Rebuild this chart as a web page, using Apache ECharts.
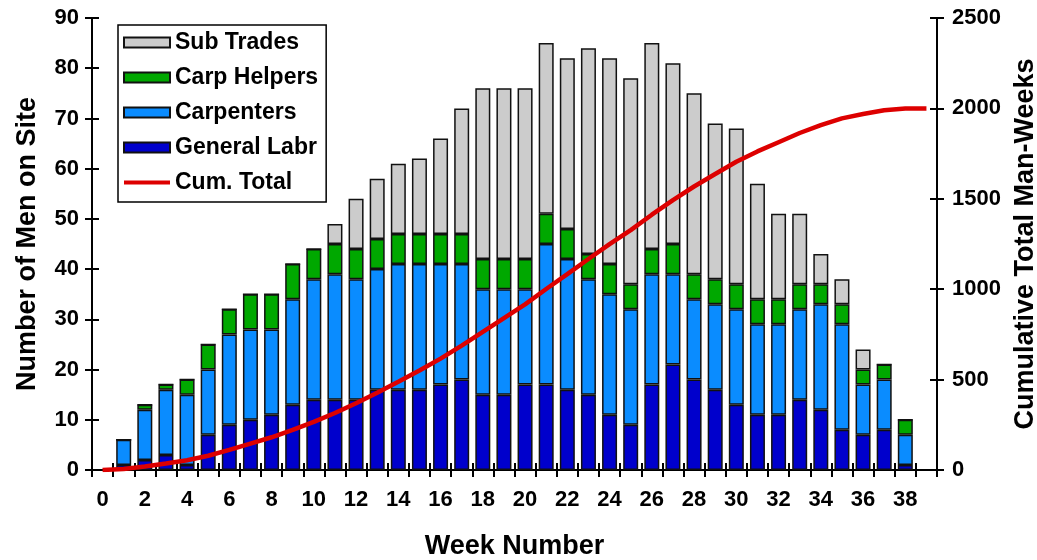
<!DOCTYPE html>
<html>
<head>
<meta charset="utf-8">
<script src="https://cdn.jsdelivr.net/npm/echarts@6/dist/echarts.min.js"></script>
<style>
  html, body { margin: 0; padding: 0; background: #fff; }
  #chart { width: 1037px; height: 560px; }
</style>
</head>
<body>
<div id="chart"></div>
<script>
// Week numbers on the category axis (0..39)
const weeks = ['0','1','2','3','4','5','6','7','8','9','10','11','12','13','14','15','16','17','18','19','20',
               '21','22','23','24','25','26','27','28','29','30','31','32','33','34','35','36','37','38','39'];

// Men on site per week, weeks 1..38
const generalLabr = [1,2,3,1,7,9,10,11,13,14,14,14,16,16,16,17,18,15,15,17,17,16,15,11,9,17,21,18,16,13,11,11,14,12,8,7,8,1];
const carpenters  = [5,10,13,14,13,18,18,17,21,24,25,24,24,25,25,24,23,21,21,19,28,26,23,24,23,22,18,16,17,19,18,18,18,21,21,10,10,6];
const carpHelpers = [0,1,1,3,5,5,7,7,7,6,6,6,6,6,6,6,6,6,6,6,6,6,5,6,5,5,6,5,5,5,5,5,5,4,4,3,3,3];
const subTrades   = [0,0,0,0,0,0,0,0,0,0,4,10,12,14,15,19,25,34,34,34,34,34,41,41,41,41,36,36,31,31,23,17,14,6,5,4,0,0];

// Cumulative total man-weeks, weeks 0..39 (right axis)
const cumTotal = [0,6,19,36,54,79,111,146,181,222,266,315,369,427,488,550,616,688,764,840,916,1001,1083,1167,1249,
                  1327,1412,1493,1568,1637,1705,1762,1813,1864,1907,1945,1969,1990,2000,2000];

// Axis ticks
const leftTicks  = { min: 0, max: 90, interval: 10 };
const rightTicks = { min: 0, max: 2500, interval: 500 };

const FONT = '"Liberation Sans", Arial, sans-serif';

function padWeeks(arr) {
  // place weeks 1..38 onto categories 0..39
  return ['-'].concat(arr, ['-']);
}

const barBase = {
  type: 'bar',
  stack: 'men',
  barWidth: 15,
  xAxisIndex: 0,
  yAxisIndex: 0,
  emphasis: { disabled: true },
  animation: false
};

const chart = echarts.init(document.getElementById('chart'), null, { renderer: 'canvas' });

const axisLineStyle = { color: '#000', width: 2 };
const labelStyle = { color: '#000', fontSize: 22, fontWeight: 'bold', fontFamily: FONT };
const nameStyle = { color: '#000', fontSize: 27, fontWeight: 'bold', fontFamily: FONT };
const plainNumber = function (v) { return String(v); };

chart.setOption({
  animation: false,
  backgroundColor: '#fff',
  grid: { left: 92, right: 100, top: 18, bottom: 90, containLabel: false, outerBoundsMode: 'none' },
  legend: {
    orient: 'vertical',
    left: 118,
    top: 25,
    padding: [6, 8, 8, 5],
    itemWidth: 46,
    itemHeight: 10,
    itemGap: 12,
    backgroundColor: '#fff',
    borderColor: '#000',
    borderWidth: 1.5,
    borderRadius: 0,
    selectedMode: false,
    textStyle: { color: '#000', fontSize: 23, fontWeight: 'bold', fontFamily: FONT },
    data: [
      { name: 'Sub Trades', icon: 'rect' },
      { name: 'Carp Helpers', icon: 'rect' },
      { name: 'Carpenters', icon: 'rect' },
      { name: 'General Labr', icon: 'rect' },
      { name: 'Cum. Total', icon: 'path://M0,0 L50,0 L50,4.5 L0,4.5 Z', itemStyle: { color: '#dd0000', borderWidth: 0 } }
    ]
  },
  xAxis: [
    {
      type: 'category',
      data: weeks,
      position: 'bottom',
      name: 'Week Number',
      nameLocation: 'middle',
      nameGap: 63,
      nameTextStyle: nameStyle,
      axisLine: { show: true, lineStyle: axisLineStyle },
      axisTick: { show: true, interval: 0, inside: false, length: 7, lineStyle: { color: '#000', width: 2 } },
      axisLabel: Object.assign({ interval: 1, margin: 19 }, labelStyle),
      splitLine: { show: false }
    },
    {
      type: 'category',
      data: weeks,
      position: 'bottom',
      axisLine: { show: false },
      axisTick: { show: true, interval: 0, inside: true, length: 7, lineStyle: { color: '#000', width: 2 } },
      axisLabel: { show: false },
      splitLine: { show: false }
    }
  ],
  yAxis: [
    {
      type: 'value',
      position: 'left',
      min: leftTicks.min, max: leftTicks.max, interval: leftTicks.interval,
      name: 'Number of Men on Site',
      nameLocation: 'middle',
      nameRotate: 90,
      nameGap: 51,
      nameTextStyle: nameStyle,
      axisLine: { show: true, lineStyle: axisLineStyle },
      axisTick: { show: true, inside: false, length: 7, lineStyle: { color: '#000', width: 2 } },
      axisLabel: Object.assign({ margin: 13, formatter: plainNumber }, labelStyle),
      splitLine: { show: false }
    },
    {
      type: 'value',
      position: 'right',
      min: rightTicks.min, max: rightTicks.max, interval: rightTicks.interval,
      name: 'Cumulative Total Man-Weeks',
      nameLocation: 'middle',
      nameRotate: 90,
      nameGap: 57,
      nameTextStyle: nameStyle,
      axisLine: { show: true, lineStyle: axisLineStyle },
      axisTick: { show: true, inside: false, length: 7, lineStyle: { color: '#000', width: 2 } },
      axisLabel: Object.assign({ margin: 15, formatter: plainNumber }, labelStyle),
      splitLine: { show: false }
    },
    {
      type: 'value',
      position: 'left',
      min: leftTicks.min, max: leftTicks.max, interval: leftTicks.interval,
      axisLine: { show: false },
      axisTick: { show: true, inside: true, length: 7, lineStyle: { color: '#000', width: 2 } },
      axisLabel: { show: false },
      splitLine: { show: false }
    },
    {
      type: 'value',
      position: 'right',
      min: rightTicks.min, max: rightTicks.max, interval: rightTicks.interval,
      axisLine: { show: false },
      axisTick: { show: true, inside: true, length: 7, lineStyle: { color: '#000', width: 2 } },
      axisLabel: { show: false },
      splitLine: { show: false }
    }
  ],
  series: [
    Object.assign({}, barBase, {
      name: 'General Labr',
      data: padWeeks(generalLabr),
      itemStyle: { color: '#0000cc', borderColor: '#111', borderWidth: 1.5 }
    }),
    Object.assign({}, barBase, {
      name: 'Carpenters',
      data: padWeeks(carpenters),
      itemStyle: { color: '#0a8cff', borderColor: '#111', borderWidth: 1.5 }
    }),
    Object.assign({}, barBase, {
      name: 'Carp Helpers',
      data: padWeeks(carpHelpers),
      itemStyle: { color: '#00a800', borderColor: '#111', borderWidth: 1.5 }
    }),
    Object.assign({}, barBase, {
      name: 'Sub Trades',
      data: padWeeks(subTrades),
      itemStyle: { color: '#cccccc', borderColor: '#111', borderWidth: 1.5 }
    }),
    {
      name: 'Cum. Total',
      type: 'line',
      xAxisIndex: 0,
      yAxisIndex: 1,
      data: cumTotal,
      symbol: 'none',
      showSymbol: false,
      z: 5,
      lineStyle: { color: '#dd0000', width: 4.5 },
      itemStyle: { color: '#dd0000' },
      emphasis: { disabled: true },
      animation: false
    }
  ]
});
</script>
</body>
</html>
